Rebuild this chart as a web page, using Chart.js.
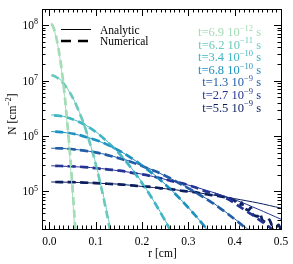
<!DOCTYPE html>
<html>
<head>
<meta charset="utf-8">
<script src="https://cdn.jsdelivr.net/npm/chart.js@4.4.0/dist/chart.umd.min.js"></script>
<style>
  html, body { margin: 0; padding: 0; background: #fff; }
  #wrap { width: 293px; height: 264px; }
</style>
</head>
<body>
<div id="wrap"><canvas id="chart" width="293" height="264"></canvas></div>
<script>
/* 拡散プロファイル: N(r) 解析解(細実線)と数値解(太破線)、7時刻 */

const SERIES_COLORS = ["#a3dcb6", "#6ccabd", "#41b6c4", "#1d91c0", "#225ea8", "#253494", "#0b1f5e"];
const TIME_MANTISSA = ["6.9", "6.2", "3.4", "6.8", "1.3", "2.7", "5.5"];
const TIME_EXPONENT = ["−12", "−11", "−10", "−10", "−9", "−9", "−9"];

const X_TICK_LABELS = ["0.0", "0.1", "0.2", "0.3", "0.4", "0.5"];
const Y_TICK_EXPONENTS = [5, 6, 7, 8];

// 解析解
const A1_R = [0.004, 0.01, 0.015, 0.02, 0.025, 0.03, 0.035, 0.04, 0.045, 0.05, 0.055, 0.06];
const A1_N = [1.1e8, 8.3e7, 5.75e7, 3.5e7, 1.8e7, 8.3e6, 3.2e6, 1.1e6, 3.2e5, 8.3e4, 1.8e4, 3.5e3];
const A2_R = [0.004, 0.01, 0.02, 0.03, 0.04, 0.05, 0.06, 0.07, 0.08, 0.09, 0.1, 0.11, 0.12, 0.13, 0.14];
const A2_N = [1.26e7, 1.2e7, 1.1e7, 9.1e6, 6.9e6, 5.0e6, 3.3e6, 2.1e6, 1.2e6, 6.3e5, 3.2e5, 1.45e5, 6.3e4, 2.5e4, 9.1e3];
const A3_R = [0.004, 0.02, 0.04, 0.06, 0.08, 0.1, 0.12, 0.14, 0.16, 0.18, 0.2, 0.22, 0.24, 0.26, 0.28];
const A3_N = [2.4e6, 2.35e6, 2.14e6, 1.86e6, 1.55e6, 1.2e6, 8.7e5, 6.0e5, 4.0e5, 2.45e5, 1.45e5, 7.9e4, 4.2e4, 2.1e4, 9.8e3];
const A4_R = [0.004, 0.025, 0.05, 0.075, 0.1, 0.125, 0.15, 0.175, 0.2, 0.225, 0.25, 0.275, 0.3, 0.325, 0.35, 0.375];
const A4_N = [1.2e6, 1.17e6, 1.1e6, 9.8e5, 8.5e5, 6.9e5, 5.5e5, 4.1e5, 2.95e5, 2.05e5, 1.35e5, 8.5e4, 5.1e4, 2.95e4, 1.6e4, 8.7e3];
const A5_R = [0.004, 0.025, 0.05, 0.075, 0.1, 0.125, 0.15, 0.175, 0.2, 0.225, 0.25, 0.275, 0.3, 0.325, 0.35, 0.375, 0.4, 0.425, 0.45];
const A5_N = [6.0e5, 6.0e5, 5.75e5, 5.5e5, 5.0e5, 4.6e5, 4.0e5, 3.5e5, 2.9e5, 2.4e5, 1.9e5, 1.5e5, 1.15e5, 8.7e4, 6.5e4, 4.6e4, 3.2e4, 2.2e4, 1.5e4];
const A6_R = [0.004, 0.05, 0.1, 0.15, 0.2, 0.25, 0.3, 0.35, 0.4, 0.45, 0.5];
const A6_N = [2.9e5, 2.8e5, 2.65e5, 2.35e5, 2.05e5, 1.65e5, 1.3e5, 9.8e4, 7.1e4, 4.8e4, 3.15e4];
const A7_R = [0.004, 0.05, 0.1, 0.15, 0.2, 0.25, 0.3, 0.35, 0.4, 0.45, 0.5];
const A7_N = [1.48e5, 1.46e5, 1.41e5, 1.35e5, 1.23e5, 1.12e5, 1.0e5, 8.7e4, 7.4e4, 6.2e4, 5.0e4];

// 数値解
const N1_R = [0.005, 0.01, 0.015, 0.02, 0.025, 0.03, 0.035, 0.04, 0.045, 0.05, 0.055, 0.06];
const N1_N = [1.05e8, 8.5e7, 5.9e7, 3.6e7, 1.95e7, 9.1e6, 3.7e6, 1.3e6, 4.2e5, 1.15e5, 2.75e4, 6.0e3];
const N2_R = [0.005, 0.015, 0.025, 0.035, 0.045, 0.055, 0.065, 0.075, 0.085, 0.095, 0.105, 0.115, 0.125, 0.135];
const N2_N = [1.26e7, 1.15e7, 1.0e7, 7.9e6, 5.9e6, 4.1e6, 2.6e6, 1.6e6, 8.7e5, 4.5e5, 2.1e5, 9.1e4, 3.6e4, 1.35e4];
const N3_R = [0.01, 0.03, 0.05, 0.07, 0.09, 0.11, 0.13, 0.15, 0.17, 0.19, 0.21, 0.23, 0.25, 0.27];
const N3_N = [2.35e6, 2.25e6, 2.0e6, 1.7e6, 1.35e6, 1.02e6, 7.2e5, 4.9e5, 3.1e5, 1.85e5, 1.07e5, 5.75e4, 2.95e4, 1.45e4];
const N4_R = [0.0125, 0.0375, 0.0625, 0.0875, 0.1125, 0.1375, 0.1625, 0.1875, 0.2125, 0.2375, 0.2625, 0.2875, 0.3125, 0.3375, 0.3625];
const N4_N = [1.2e6, 1.15e6, 1.05e6, 9.1e5, 7.8e5, 6.2e5, 4.8e5, 3.5e5, 2.45e5, 1.66e5, 1.07e5, 6.6e4, 3.9e4, 2.2e4, 1.15e4];
const N5_R = [0.0125, 0.0375, 0.0625, 0.0875, 0.1125, 0.1375, 0.1625, 0.1875, 0.2125, 0.2375, 0.2625, 0.2875, 0.3125, 0.3375, 0.3625, 0.3875, 0.4125, 0.4375];
const N5_N = [6.0e5, 5.9e5, 5.6e5, 5.25e5, 4.8e5, 4.25e5, 3.7e5, 3.15e5, 2.6e5, 2.15e5, 1.7e5, 1.3e5, 1.0e5, 7.4e4, 5.4e4, 3.8e4, 2.6e4, 1.75e4];
const N6_R = [0.0125, 0.0375, 0.0625, 0.0875, 0.1125, 0.1375, 0.1625, 0.1875, 0.2125, 0.2375, 0.2625, 0.2875, 0.3125, 0.3375, 0.3625, 0.3875, 0.4125, 0.4375, 0.4625, 0.4875];
const N6_N = [2.9e5, 2.85e5, 2.8e5, 2.7e5, 2.55e5, 2.45e5, 2.3e5, 2.1e5, 1.95e5, 1.75e5, 1.55e5, 1.4e5, 1.2e5, 1.0e5, 8.7e4, 7.1e4, 5.2e4, 3.8e4, 2.7e4, 1.9e4];
const N7_R = [0.0125, 0.0375, 0.0625, 0.0875, 0.1125, 0.1375, 0.1625, 0.1875, 0.2125, 0.2375, 0.2625, 0.2875, 0.3125, 0.3375, 0.3625, 0.3875,
  0.4, 0.41, 0.415, 0.42, 0.43, 0.435, 0.44, 0.45, 0.455, 0.46, 0.47, 0.475, 0.48, 0.49, 0.495, 0.5];
const N7_N = [1.48e5, 1.47e5, 1.46e5, 1.43e5, 1.4e5, 1.35e5, 1.32e5, 1.26e5, 1.22e5, 1.15e5, 1.1e5, 1.02e5, 9.7e4, 8.9e4, 8.3e4, 7.6e4,
  6.8e4, 5.5e4, 6.3e4, 5.0e4, 4.6e4, 5.1e4, 3.8e4, 3.55e4, 4.0e4, 3.0e4, 2.75e4, 3.1e4, 2.5e4, 2.3e4, 2.5e4, 2.0e4];

const ANALYTIC = [[A1_R, A1_N], [A2_R, A2_N], [A3_R, A3_N], [A4_R, A4_N], [A5_R, A5_N], [A6_R, A6_N], [A7_R, A7_N]];
const NUMERIC = [[N1_R, N1_N], [N2_R, N2_N], [N3_R, N3_N], [N4_R, N4_N], [N5_R, N5_N], [N6_R, N6_N], [N7_R, N7_N]];

const SERIF = "'Liberation Serif', 'DejaVu Serif', serif";
const ink = "#000";

const toPts = (rs, ns) => rs.map((r, i) => ({ x: r, y: ns[i] }));

const datasets = [];
ANALYTIC.forEach(([rs, ns], i) => {
  datasets.push({ data: toPts(rs, ns), showLine: true, borderColor: SERIES_COLORS[i], borderWidth: 1, pointRadius: 0, tension: 0.3 });
});
NUMERIC.forEach(([rs, ns], i) => {
  datasets.push({ data: toPts(rs, ns), showLine: true, borderColor: SERIES_COLORS[i], borderWidth: 2.7, borderDash: [8, 4.5], pointRadius: 0, tension: 0.2 });
});

// 上付き文字付きテキスト: parts = [[text, isSup], ...]
function partsWidth(ctx, parts, size, supSize) {
  let w = 0;
  parts.forEach(([s, sup]) => {
    ctx.font = `${sup ? supSize : size}px ${SERIF}`;
    w += ctx.measureText(s).width;
  });
  return w;
}
function drawParts(ctx, parts, x, y, size, supSize) {
  parts.forEach(([s, sup]) => {
    ctx.font = `${sup ? supSize : size}px ${SERIF}`;
    ctx.fillText(s, x, sup ? y - size * 0.42 : y);
    x += ctx.measureText(s).width;
  });
}

// 枠・目盛・ラベル・凡例は chart の scale から位置を取って描く
const framePlugin = {
  id: "frame",
  afterDraw(chart) {
    const ctx = chart.ctx;
    const a = chart.chartArea;
    const xs = chart.scales.x;
    const ys = chart.scales.y;
    ctx.save();
    ctx.strokeStyle = ink;
    ctx.fillStyle = ink;
    ctx.lineWidth = 1;
    ctx.strokeRect(Math.round(a.left) + 0.5, Math.round(a.top) + 0.5, Math.round(a.right - a.left), Math.round(a.bottom - a.top));

    // x ticks (0.01刻み, 0.1ごとに長い)
    ctx.beginPath();
    for (let i = -1; i <= 50; i++) {
      const px = Math.round(xs.getPixelForValue(i / 100)) + 0.5;
      if (px < a.left || px > a.right) continue;
      const len = i % 10 === 0 ? 7 : 3.5;
      ctx.moveTo(px, a.bottom); ctx.lineTo(px, a.bottom - len);
      ctx.moveTo(px, a.top); ctx.lineTo(px, a.top + len);
    }
    // y ticks (対数, 10^n で長い)
    for (let d = 4; d <= 8; d++) {
      for (let m = 1; m <= 9; m++) {
        const v = m * Math.pow(10, d);
        if (v < ys.min || v > ys.max) continue;
        const py = Math.round(ys.getPixelForValue(v)) + 0.5;
        const len = m === 1 ? 7 : 3.5;
        ctx.moveTo(a.left, py); ctx.lineTo(a.left + len, py);
        ctx.moveTo(a.right, py); ctx.lineTo(a.right - len, py);
      }
    }
    ctx.stroke();

    // x tick labels
    ctx.textAlign = "center";
    ctx.textBaseline = "alphabetic";
    ctx.font = `11.5px ${SERIF}`;
    X_TICK_LABELS.forEach((s) => {
      ctx.fillText(s, xs.getPixelForValue(parseFloat(s)), a.bottom + 16);
    });
    // y tick labels 10^n
    ctx.textAlign = "left";
    Y_TICK_EXPONENTS.forEach((e) => {
      const parts = [["10", false], [String(e), true]];
      const w = partsWidth(ctx, parts, 11.5, 8);
      drawParts(ctx, parts, a.left - 4 - w, ys.getPixelForValue(Math.pow(10, e)) + 4, 11.5, 8);
    });

    // axis titles
    ctx.font = `11.5px ${SERIF}`;
    ctx.textAlign = "center";
    ctx.fillText("r [cm]", (a.left + a.right) / 2 + 1, a.bottom + 28);
    ctx.save();
    ctx.translate(16, 114);
    ctx.rotate(-Math.PI / 2);
    ctx.textAlign = "left";
    const yt = [["N [cm", false], ["−2", true], ["]", false]];
    drawParts(ctx, yt, -partsWidth(ctx, yt, 11.5, 8) / 2, 0, 11.5, 8);
    ctx.restore();

    // legend
    ctx.textAlign = "left";
    ctx.beginPath();
    ctx.lineWidth = 1;
    ctx.moveTo(61, 29.5); ctx.lineTo(91, 29.5);
    ctx.stroke();
    ctx.beginPath();
    ctx.lineWidth = 2.7;
    ctx.setLineDash([10, 7]);
    ctx.moveTo(61, 41); ctx.lineTo(91, 41);
    ctx.stroke();
    ctx.setLineDash([]);
    ctx.font = `11.5px ${SERIF}`;
    ctx.fillText("Analytic", 100, 33.5);
    ctx.fillText("Numerical", 100, 45);

    // times
    TIME_MANTISSA.forEach((mant, i) => {
      const parts = [[`t=${mant} 10`, false], [TIME_EXPONENT[i], true], [" s", false]];
      const w = partsWidth(ctx, parts, 12.5, 8.5);
      ctx.fillStyle = SERIES_COLORS[i];
      drawParts(ctx, parts, 261 - w, 36 + i * 12.6, 12.5, 8.5);
    });
    ctx.restore();
  },
};

new Chart(document.getElementById("chart"), {
  type: "scatter",
  data: { datasets },
  options: {
    responsive: false,
    animation: false,
    events: [],
    layout: { padding: { left: 42, right: 12, top: 9, bottom: 35 } },
    plugins: { legend: { display: false }, tooltip: { enabled: false } },
    scales: {
      x: { type: "linear", min: -0.016, max: 0.5, display: false },
      y: { type: "logarithmic", min: 2.1e4, max: 1.95e8, display: false },
    },
  },
  plugins: [framePlugin],
});
</script>
</body>
</html>
